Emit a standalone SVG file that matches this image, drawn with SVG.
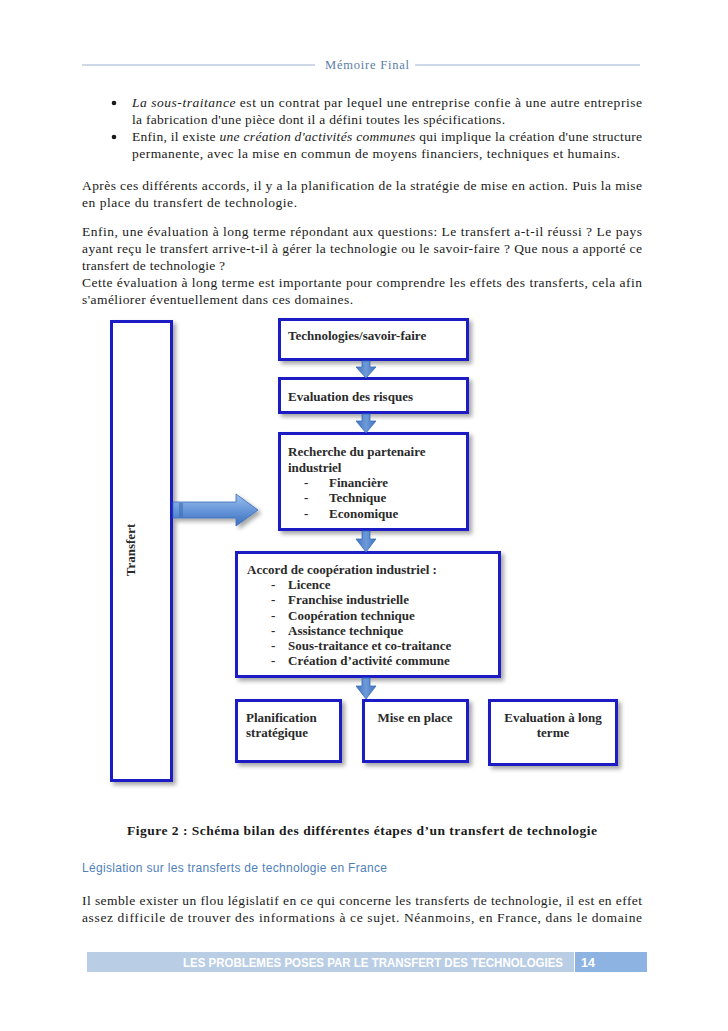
<svg xmlns="http://www.w3.org/2000/svg" width="728" height="1031" viewBox="0 0 728 1031">
<defs>
<style>
.body{font-family:"Liberation Serif","DejaVu Serif",serif;font-size:13.5px;fill:#1a1a1a}
.it{font-style:italic}
.box{fill:#ffffff;stroke:#1b1bc4;stroke-width:3}
.lbl{font-family:"Liberation Serif","DejaVu Serif",serif;font-size:13px;font-weight:bold;fill:#2a2a2a}
.arrow{fill:url(#gv);stroke:#3a6db8;stroke-width:0.8}
.hdr{stroke:#9ab2cc;stroke-width:1}
</style>
<filter id="sh" x="-10%" y="-10%" width="130%" height="130%">
<feDropShadow dx="3" dy="3" stdDeviation="2" flood-color="#000" flood-opacity="0.35"/>
</filter>
<linearGradient id="gv" x1="0" y1="0" x2="1" y2="0">
<stop offset="0" stop-color="#3f72c0"/>
<stop offset="0.5" stop-color="#6e9ad8"/>
<stop offset="1" stop-color="#3f72c0"/>
</linearGradient>
<linearGradient id="gh" x1="0" y1="0" x2="0" y2="1">
<stop offset="0" stop-color="#9cc0ee"/>
<stop offset="0.6" stop-color="#5e8fd4"/>
<stop offset="1" stop-color="#3e70bc"/>
</linearGradient>
</defs>
<rect width="728" height="1031" fill="#ffffff"/>

<!-- header -->
<g id="header">
<line class="hdr" x1="82" y1="65" x2="315" y2="65"/>
<line class="hdr" x1="415" y1="65" x2="640" y2="65"/>
<text x="325" y="69" font-family="Liberation Serif, serif" font-size="12.5" fill="#5a7ea8" textLength="84" lengthAdjust="spacing">Mémoire Final</text>
</g>

<!-- intro text -->
<g id="intro">
<circle cx="114" cy="103" r="2.3" fill="#1a1a1a"/>
<circle cx="114" cy="137" r="2.3" fill="#1a1a1a"/>
<text class="body" x="132" y="107" textLength="510" lengthAdjust="spacing"><tspan class="it">La sous-traitance</tspan> est un contrat par lequel une entreprise confie à une autre entreprise</text>
<text class="body" x="132" y="124" textLength="373" lengthAdjust="spacing">la fabrication d'une pièce dont il a défini toutes les spécifications.</text>
<text class="body" x="132" y="141" textLength="510" lengthAdjust="spacing">Enfin, il existe <tspan class="it">une création d'activités communes</tspan> qui implique la création d'une structure</text>
<text class="body" x="132" y="158" textLength="488" lengthAdjust="spacing">permanente, avec la mise en commun de moyens financiers, techniques et humains.</text>
<text class="body" x="82" y="190" textLength="560" lengthAdjust="spacing">Après ces différents accords, il y a la planification de la stratégie de mise en action. Puis la mise</text>
<text class="body" x="82" y="207" textLength="215" lengthAdjust="spacing">en place du transfert de technologie.</text>
<text class="body" x="82" y="236" textLength="560" lengthAdjust="spacing">Enfin, une évaluation à long terme répondant aux questions: Le transfert a-t-il réussi ? Le pays</text>
<text class="body" x="82" y="253" textLength="560" lengthAdjust="spacing">ayant reçu le transfert arrive-t-il à gérer la technologie ou le savoir-faire ? Que nous a apporté ce</text>
<text class="body" x="82" y="270" textLength="143" lengthAdjust="spacing">transfert de technologie ?</text>
<text class="body" x="82" y="287" textLength="560" lengthAdjust="spacing">Cette évaluation à long terme est importante pour comprendre les effets des transferts, cela afin</text>
<text class="body" x="82" y="304" textLength="271" lengthAdjust="spacing">s'améliorer éventuellement dans ces domaines.</text>
</g>

<!-- diagram nodes -->
<g id="node-transfert">
<rect class="box" x="111.5" y="321.5" width="60" height="459" filter="url(#sh)"/>
<text class="lbl" font-size="14" transform="translate(135 550) rotate(-90)" text-anchor="middle">Transfert</text>
</g>
<g id="node-technologies">
<rect class="box" x="279.5" y="319.5" width="188" height="40" filter="url(#sh)"/>
<text class="lbl" x="288" y="340">Technologies/savoir-faire</text>
</g>
<g id="node-evaluation-risques">
<rect class="box" x="279.5" y="378.5" width="188" height="34" filter="url(#sh)"/>
<text class="lbl" x="288" y="401">Evaluation des risques</text>
</g>
<g id="node-recherche">
<rect class="box" x="279.5" y="433.5" width="188" height="96" filter="url(#sh)"/>
<text class="lbl" x="288" y="456">Recherche du partenaire</text>
<text class="lbl" x="288" y="472">industriel</text>
<text class="lbl" x="304" y="487">-</text><text class="lbl" x="329" y="487">Financière</text>
<text class="lbl" x="304" y="502">-</text><text class="lbl" x="329" y="502">Technique</text>
<text class="lbl" x="304" y="518">-</text><text class="lbl" x="329" y="518">Economique</text>
</g>
<g id="node-accord">
<rect class="box" x="236.5" y="552.5" width="263" height="124" filter="url(#sh)"/>
<text class="lbl" x="247" y="574">Accord de coopération industriel :</text>
<text class="lbl" x="271" y="589">-</text><text class="lbl" x="288" y="589">Licence</text>
<text class="lbl" x="271" y="604">-</text><text class="lbl" x="288" y="604">Franchise industrielle</text>
<text class="lbl" x="271" y="620">-</text><text class="lbl" x="288" y="620">Coopération technique</text>
<text class="lbl" x="271" y="635">-</text><text class="lbl" x="288" y="635">Assistance technique</text>
<text class="lbl" x="271" y="650">-</text><text class="lbl" x="288" y="650">Sous-traitance et co-traitance</text>
<text class="lbl" x="271" y="665">-</text><text class="lbl" x="288" y="665">Création d’activité commune</text>
</g>
<g id="node-planification">
<rect class="box" x="236.5" y="700.5" width="104" height="61" filter="url(#sh)"/>
<text class="lbl" x="246" y="722">Planification</text>
<text class="lbl" x="246" y="737">stratégique</text>
</g>
<g id="node-mise-en-place">
<rect class="box" x="363.5" y="700.5" width="104" height="61" filter="url(#sh)"/>
<text class="lbl" x="415" y="722" text-anchor="middle">Mise en place</text>
</g>
<g id="node-evaluation-long-terme">
<rect class="box" x="489.5" y="700.5" width="127" height="64" filter="url(#sh)"/>
<text class="lbl" x="553" y="722" text-anchor="middle">Evaluation à long</text>
<text class="lbl" x="553" y="737" text-anchor="middle">terme</text>
</g>

<!-- connectors -->
<g id="connectors">
<polygon points="173,502 236,502 236,494 258,510 236,526 236,518 173,518" fill="url(#gh)" stroke="#3a6db8" stroke-width="0.8" filter="url(#sh)"/>
<rect x="179" y="503" width="4" height="14" fill="#3e6fb8" opacity="0.6"/>
<polygon class="arrow" points="362,361 370,361 370,367 376,367 366,378 356,367 362,367"/>
<polygon class="arrow" points="362,414 370,414 370,421 376,421 366,433 356,421 362,421"/>
<polygon class="arrow" points="362,531 370,531 370,539 376,539 366,552 356,539 362,539"/>
<polygon class="arrow" points="362,678 370,678 370,686 376,686 366,699 356,686 362,686"/>
</g>

<!-- caption and following text -->
<g id="caption">
<text x="127" y="835" font-family="Liberation Serif, serif" font-size="13.5" font-weight="bold" fill="#1a1a1a" textLength="470" lengthAdjust="spacing">Figure 2 : Schéma bilan des différentes étapes d’un transfert de technologie</text>
</g>
<g id="section">
<text x="82" y="872" font-family="Liberation Sans, Arial, sans-serif" font-size="12" fill="#4f81bd" textLength="305" lengthAdjust="spacing">Législation sur les transferts de technologie en France</text>
<text class="body" x="82" y="905" textLength="560" lengthAdjust="spacing">Il semble exister un flou législatif en ce qui concerne les transferts de technologie, il est en effet</text>
<text class="body" x="82" y="922" textLength="560" lengthAdjust="spacing">assez difficile de trouver des informations à ce sujet. Néanmoins, en France, dans le domaine</text>
</g>

<!-- footer -->
<g id="footer">
<rect x="87" y="952" width="487" height="20" fill="#b9cde5"/>
<rect x="575" y="952" width="72" height="20" fill="#8db3e2"/>
<text x="183" y="967" font-family="Liberation Sans, Arial, sans-serif" font-size="12" font-weight="bold" fill="#ffffff" textLength="380" lengthAdjust="spacingAndGlyphs">LES PROBLEMES POSES PAR LE TRANSFERT DES TECHNOLOGIES</text>
<text x="581" y="967" font-family="Liberation Sans, Arial, sans-serif" font-size="12.5" font-weight="bold" fill="#ffffff">14</text>
</g>
</svg>
